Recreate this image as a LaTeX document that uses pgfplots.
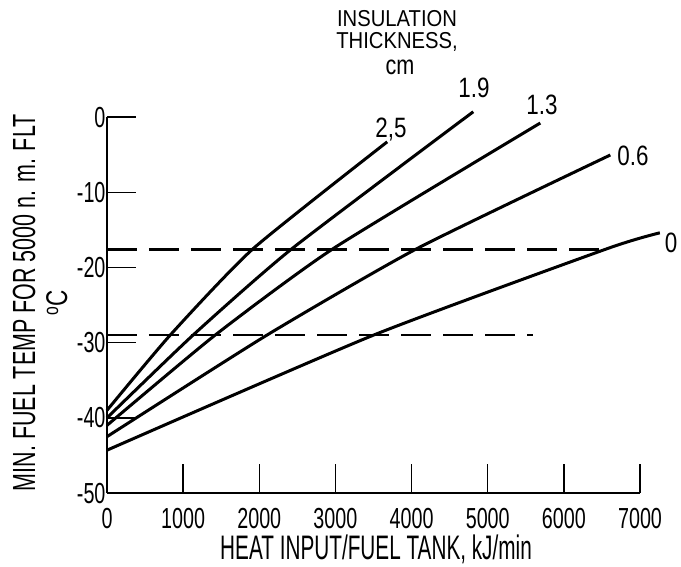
\documentclass[border=0pt]{standalone}
\usepackage{fontspec}
\setmainfont{Liberation Sans}
\newcommand\fnt[2]{\fontsize{#1}{#1}\selectfont\addfontfeature{FakeStretch=#2}}
\usepackage{pgfplots}
\pgfplotsset{compat=1.18}
\begin{document}
\begin{tikzpicture}
\begin{axis}[
  scale only axis, width=533pt, height=376pt,
  xmin=0, xmax=7000, ymin=-50, ymax=0,
  axis x line=bottom, axis y line=left,
  axis line style={-, line width=1.4pt},
  xtick={0,1000,2000,3000,4000,5000,6000,7000},
  xticklabels={0,1000,2000,3000,4000,5000,6000,7000},
  ytick={-50,-40,-30,-20,-10,0},
  yticklabels={-50,-40,-30,-20,-10,0},
  tick align=inside, major tick length=29pt,
  tick style={line width=1.4pt, black},
  ticklabel style={font=\fnt{29}{0.68}},
  xticklabel style={yshift=-12pt},
  yticklabel style={xshift=2pt},
  clip=false,
]
% dashed reference lines
\addplot[black, line width=2.4pt, dash pattern=on 30pt off 12pt] coordinates {(0,-17.6) (6570,-17.6)};
\addplot[black, line width=2.4pt, dash pattern=on 30pt off 12pt] coordinates {(0,-29.0) (5600,-29.0)};
% insulation thickness curves
\addplot[black, line width=3pt, smooth, tension=0.35] coordinates {(0,-39.0) (830,-29) (1920,-17.5) (3680,-3.3)};
\addplot[black, line width=3pt, smooth, tension=0.35] coordinates {(0,-40.0) (1130,-29) (2430,-17.5) (4810,0.7)};
\addplot[black, line width=3pt, smooth, tension=0.35] coordinates {(0,-41.0) (1420,-29) (2970,-17.5) (5690,-0.8)};
\addplot[black, line width=3pt, smooth, tension=0.35] coordinates {(0,-42.5) (2100,-29) (4070,-17.5) (6610,-5.05)};
\addplot[black, line width=3pt, smooth, tension=0.35] coordinates {(0,-44.3) (3500,-29) (6570,-17.5) (7260,-15.4)};
% curve labels
\node[anchor=base, font=\fnt{28}{0.8}] at (axis cs:3730,-2.66) {2,5};
\node[anchor=base, font=\fnt{28}{0.8}] at (axis cs:4820,2.66) {1.9};
\node[anchor=base, font=\fnt{28}{0.8}] at (axis cs:5713,0.27) {1.3};
\node[anchor=base, font=\fnt{28}{0.8}] at (axis cs:6908,-6.4) {0.6};
\node[anchor=base, font=\fnt{28}{0.8}] at (axis cs:7407,-18.0) {0};
% legend title
\node[anchor=base, font=\fnt{23}{0.88}] at (axis cs:3809,12.0) {INSULATION};
\node[anchor=base, font=\fnt{23}{0.88}] at (axis cs:3809,9.1) {THICKNESS,};
\node[anchor=base, font=\fnt{27}{0.8}] at (axis cs:3848,5.6) {cm};
% axis labels
\node[anchor=base, font=\fnt{34}{0.61}] at (axis cs:3533,-58.9) {HEAT INPUT/FUEL TANK, kJ/min};
\node[rotate=90, font=\fnt{32}{0.67}] at (axis cs:-1090,-24.7) {MIN. FUEL TEMP FOR 5000 n. m. FLT};
\node[rotate=90, font=\fnt{30}{0.75}] at (axis cs:-660,-24.7) {\textsuperscript{o}C};
\coordinate (bbSW) at (axis cs:-1405,-59.7);
\coordinate (bbNE) at (axis cs:7538,15.56);
\end{axis}
\pgfresetboundingbox
\path (bbSW) rectangle (bbNE);
\end{tikzpicture}
\end{document}
